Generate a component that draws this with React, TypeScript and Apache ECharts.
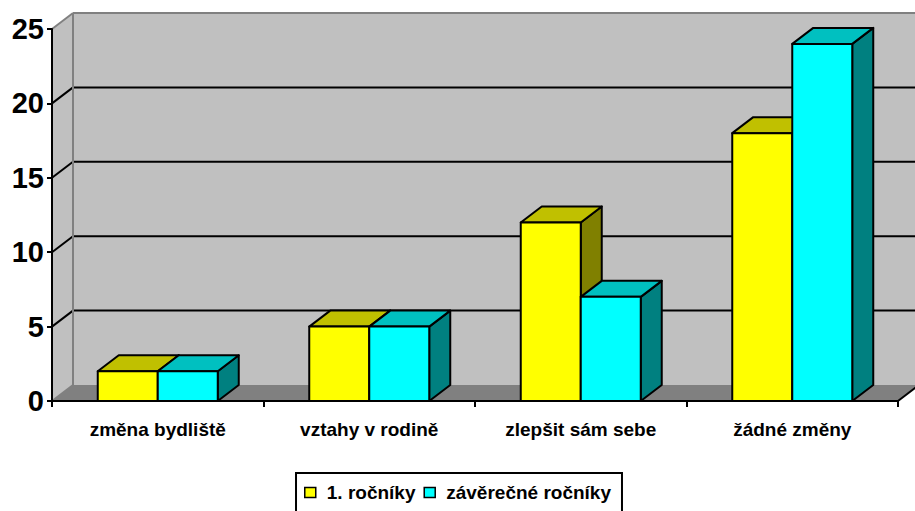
import React, { useEffect, useRef } from "react";
import * as echarts from "echarts";

// Categories and values
const categories = ["změna bydliště", "vztahy v rodině", "zlepšit sám sebe", "žádné změny"];
const seriesNames = ["1. ročníky", "závěrečné ročníky"];
const firstYears = [2, 5, 12, 18];
const finalYears = [2, 5, 7, 24];
const yTicks = [0, 5, 10, 15, 20, 25];

// 3D look: depth offset of the back plane (px)
const DX = 21;
const DY = -16;
const BAR_FRACTION = 0.2837; // width of one bar relative to a category slot

const FONT = "'Liberation Sans', Arial, Helvetica, sans-serif";

const faceColors = [
  { front: "#ffff00", top: "#c0c000", side: "#808000" },
  { front: "#00ffff", top: "#00c0c0", side: "#008080" },
];

function wallsRenderItem(params: any, api: any) {
  const n = categories.length;
  const slot = api.size([1, 0])[0];
  const x0 = api.coord([0, 0])[0] - slot / 2;
  const x1 = api.coord([n - 1, 0])[0] + slot / 2;
  const yMax = yTicks[yTicks.length - 1];
  const yb = api.coord([0, 0])[1];
  const yt = api.coord([0, yMax])[1];
  const children: any[] = [];
  // back wall
  children.push({
    type: "polygon",
    shape: { points: [[x0 + DX, yt + DY], [x1 + DX + 40, yt + DY], [x1 + DX + 40, yb + DY], [x0 + DX, yb + DY]] },
    style: { fill: "#c0c0c0", stroke: null },
  });
  // side wall
  children.push({
    type: "polygon",
    shape: { points: [[x0, yt], [x0 + DX, yt + DY], [x0 + DX, yb + DY], [x0, yb]] },
    style: { fill: "#c0c0c0", stroke: null },
  });
  // floor
  children.push({
    type: "polygon",
    shape: { points: [[x0, yb], [x0 + DX, yb + DY], [x1 + DX, yb + DY], [x1, yb]] },
    style: { fill: "#808080", stroke: null },
  });
  // gridlines on back and side walls
  yTicks.forEach((v) => {
    const y = api.coord([0, v])[1];
    const edge = v === 0 || v === yMax;
    const color = edge ? "#808080" : "#000000";
    children.push({
      type: "line",
      shape: { x1: x0, y1: y, x2: x0 + DX, y2: y + DY },
      style: { stroke: color, lineWidth: 2 },
    });
    if (v !== 0) {
      children.push({
        type: "line",
        shape: { x1: x0 + DX, y1: y + DY, x2: x1 + DX + 40, y2: y + DY },
        style: { stroke: color, lineWidth: 2 },
      });
    }
  });
  // back corner edge
  children.push({
    type: "line",
    shape: { x1: x0 + DX, y1: yt + DY, x2: x0 + DX, y2: yb + DY },
    style: { stroke: "#808080", lineWidth: 2 },
  });
  // right edge of floor
  children.push({
    type: "line",
    shape: { x1: x1, y1: yb, x2: x1 + DX, y2: yb + DY },
    style: { stroke: "#000000", lineWidth: 2 },
  });
  return { type: "group", children };
}

function makeBarRenderer(seriesIndex: number) {
  const colors = faceColors[seriesIndex];
  return (params: any, api: any) => {
    const cat = api.value(0);
    const val = api.value(1);
    const slot = api.size([1, 0])[0];
    const w = slot * BAR_FRACTION;
    const center = api.coord([cat, 0])[0];
    const left = seriesIndex === 0 ? center - w : center;
    const right = left + w;
    const bottom = api.coord([cat, 0])[1];
    const top = api.coord([cat, val])[1];
    const lineStyle = { stroke: "#000000", lineWidth: 2, lineJoin: "round" };
    return {
      type: "group",
      children: [
        {
          type: "polygon",
          shape: { points: [[right, top], [right + DX, top + DY], [right + DX, bottom + DY], [right, bottom]] },
          style: { fill: colors.side, ...lineStyle },
        },
        {
          type: "polygon",
          shape: { points: [[left, top], [left + DX, top + DY], [right + DX, top + DY], [right, top]] },
          style: { fill: colors.top, ...lineStyle },
        },
        {
          type: "rect",
          shape: { x: left, y: top, width: w, height: bottom - top },
          style: { fill: colors.front, ...lineStyle },
        },
      ],
    };
  };
}

export default function App() {
  const ref = useRef<HTMLDivElement>(null);
  useEffect(() => {
    if (!ref.current) return;
    const chart = echarts.init(ref.current, undefined, { renderer: "svg" });
    const seriesData = [firstYears, finalYears];
    chart.setOption({
      animation: false,
      backgroundColor: "#ffffff",
      grid: { left: 52, right: 17, top: 29, bottom: 110, containLabel: false },
      xAxis: {
        type: "category",
        data: categories,
        z: 10,
        axisLine: { lineStyle: { color: "#000000", width: 2 } },
        axisTick: { show: true, length: 6, lineStyle: { color: "#000000", width: 2 } },
        axisLabel: {
          color: "#000000",
          fontSize: 19,
          fontWeight: "bold",
          fontFamily: FONT,
          margin: 19,
        },
        splitLine: { show: false },
      },
      yAxis: {
        type: "value",
        min: 0,
        max: 25,
        interval: 5,
        z: 10,
        axisLine: { show: true, lineStyle: { color: "#000000", width: 2 } },
        axisTick: { show: true, length: 5, lineStyle: { color: "#000000", width: 2 } },
        axisLabel: {
          color: "#000000",
          fontSize: 29,
          fontWeight: "bold",
          fontFamily: FONT,
          margin: 8,
        },
        splitLine: { show: false },
      },
      legend: {
        data: seriesNames.map((name, i) => ({
          name,
          icon: "rect",
          itemStyle: { color: faceColors[i].front, borderColor: "#000000", borderWidth: 1.5 },
        })),
        left: "center",
        top: 473,
        orient: "horizontal",
        itemWidth: 11,
        itemHeight: 10,
        itemGap: 8,
        borderColor: "#000000",
        borderWidth: 2,
        padding: [10, 11, 16, 8],
        textStyle: {
          color: "#000000",
          fontSize: 19,
          fontWeight: "bold",
          fontFamily: FONT,
          padding: [0, 0, 0, 6],
        },
      },
      series: [
        {
          type: "custom",
          name: "walls",
          z: 1,
          clip: false,
          silent: true,
          renderItem: wallsRenderItem,
          data: [[0, 0]],
        },
        ...seriesNames.map((name, i) => ({
          type: "custom",
          name,
          z: 2 + i,
          clip: false,
          itemStyle: { color: faceColors[i].front },
          renderItem: makeBarRenderer(i),
          encode: { x: 0, y: 1 },
          data: seriesData[i].map((v, k) => [k, v]),
        })),
      ],
    });
    return () => chart.dispose();
  }, []);
  return <div ref={ref} style={{ position: "fixed", left: 0, top: 0, width: 915, height: 511 }} />;
}
